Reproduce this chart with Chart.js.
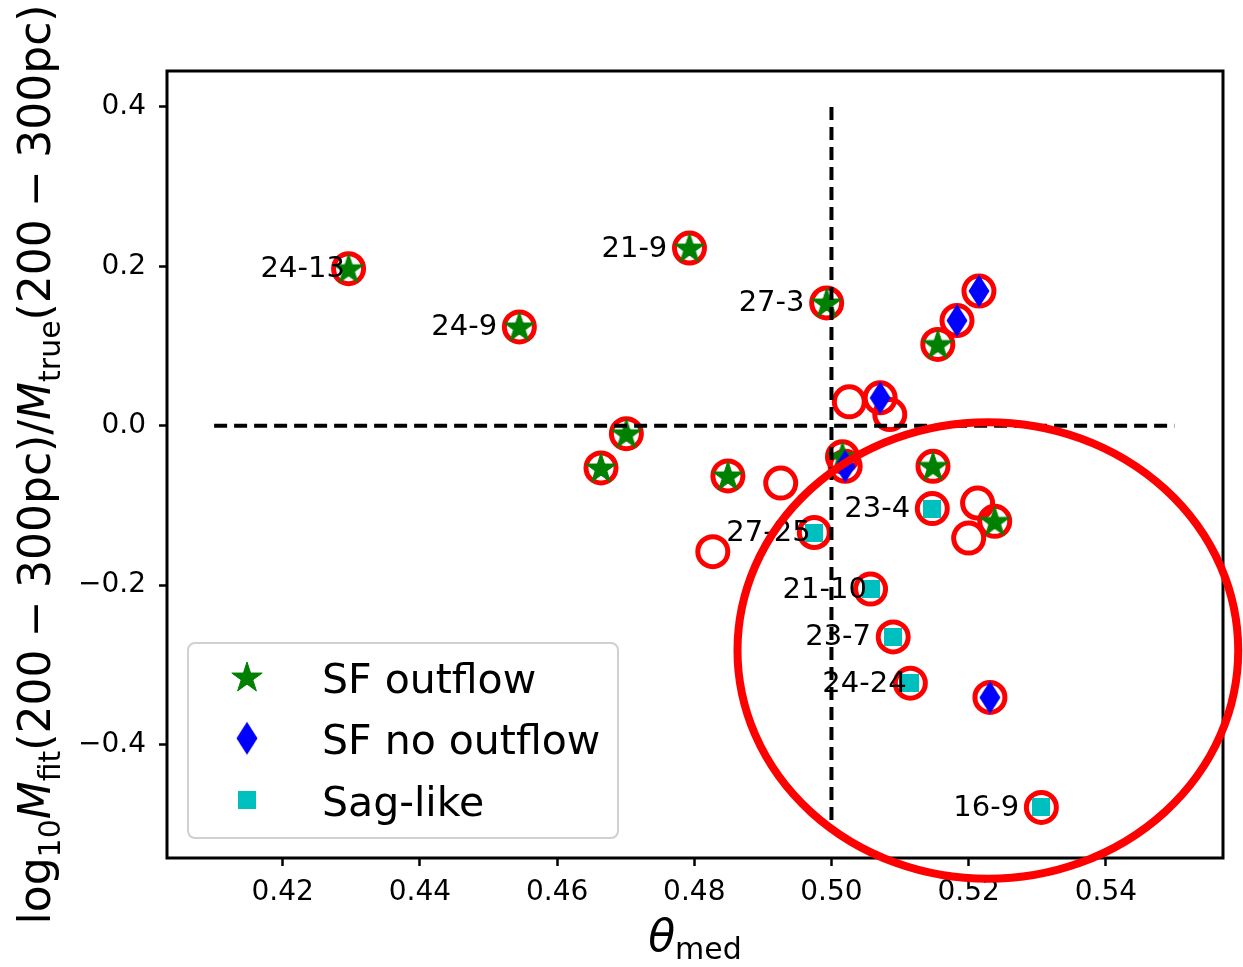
<!DOCTYPE html>
<html>
<head>
<meta charset="utf-8">
<script src="https://cdn.jsdelivr.net/npm/chart.js"></script>
<style>
  html, body { margin: 0; padding: 0; background: #fff; }
</style>
</head>
<body>
<canvas id="grafico" width="1243" height="967"></canvas>
<script>
// --- data ---
const sfOutflowTheta = [0.4296, 0.4545, 0.4793, 0.4993, 0.5155, 0.4701, 0.4664, 0.4849, 0.5016, 0.5148, 0.5238];
const sfOutflowMass  = [0.197, 0.124, 0.223, 0.154, 0.102, -0.010, -0.053, -0.063, -0.039, -0.051, -0.120];

const sfNoOutflowTheta = [0.5215, 0.5183, 0.5071, 0.5020, 0.5231];
const sfNoOutflowMass  = [0.169, 0.132, 0.035, -0.051, -0.341];

const sagLikeTheta = [0.5147, 0.4975, 0.5057, 0.5090, 0.5115, 0.5306];
const sagLikeMass  = [-0.104, -0.134, -0.205, -0.265, -0.323, -0.479];

// galaxies with no class (only the red ring)
const otherTheta = [0.5026, 0.5085, 0.4926, 0.5213, 0.5200, 0.4827];
const otherMass  = [0.030, 0.014, -0.072, -0.097, -0.141, -0.158];

const labelNames = ['24-13', '24-9', '21-9', '27-3', '23-4', '27-25', '21-10', '23-7', '24-24', '16-9'];
const labelTheta = [0.4296, 0.4545, 0.4793, 0.4993, 0.5147, 0.4975, 0.5057, 0.5090, 0.5115, 0.5306];
const labelMass  = [0.197, 0.124, 0.223, 0.154, -0.104, -0.134, -0.205, -0.265, -0.323, -0.479];

// reference lines
const hLineTheta = [0.41, 0.55];
const hLineMass  = [0, 0];
const vLineTheta = [0.5, 0.5];
const vLineMass  = [0.4, -0.5];

// highlight ellipse (data units)
const ellipseCenter = [0.5228, -0.282];
const ellipseRadius = [0.0365, 0.2865];

const xTicks = [0.42, 0.44, 0.46, 0.48, 0.50, 0.52, 0.54];
const xTickLabels = ['0.42', '0.44', '0.46', '0.48', '0.50', '0.52', '0.54'];
const yTicks = [-0.4, -0.2, 0.0, 0.2, 0.4];
const yTickLabels = ['\u22120.4', '\u22120.2', '0.0', '0.2', '0.4'];

const xMin = 0.40313, xMax = 0.55708;
const yMin = -0.5424, yMax = 0.4451;

const FONT = 'DejaVu Sans';

function pts(xs, ys) {
    return xs.map((x, i) => ({ x: x, y: ys[i] }));
}

// --- marker images (matplotlib-like) ---
function makeStar() {
    const c = document.createElement('canvas');
    c.width = 36; c.height = 36;
    const g = c.getContext('2d');
    const R = 16, r = R * 0.381966, cx = 18, cy = 19;
    g.beginPath();
    for (let k = 0; k < 10; k++) {
        const ang = -Math.PI / 2 + k * Math.PI / 5;
        const rad = k % 2 === 0 ? R : r;
        const px = cx + rad * Math.cos(ang), py = cy + rad * Math.sin(ang);
        if (k === 0) g.moveTo(px, py); else g.lineTo(px, py);
    }
    g.closePath();
    g.fillStyle = '#008000';
    g.fill();
    g.lineWidth = 1;
    g.strokeStyle = '#008000';
    g.stroke();
    return c;
}
function makeDiamond() {
    const c = document.createElement('canvas');
    c.width = 24; c.height = 36;
    const g = c.getContext('2d');
    g.beginPath();
    g.moveTo(12, 1.5); g.lineTo(22.5, 18); g.lineTo(12, 34.5); g.lineTo(1.5, 18);
    g.closePath();
    g.fillStyle = '#0000ff';
    g.fill();
    return c;
}
function makeSquare() {
    const c = document.createElement('canvas');
    c.width = 18; c.height = 18;
    const g = c.getContext('2d');
    g.fillStyle = '#00bfbf';
    g.fillRect(0, 0, 18, 18);
    return c;
}
const starImg = makeStar();
const diamondImg = makeDiamond();
const squareImg = makeSquare();

// --- mathtext-like titles ---
function richWidth(ctx, parts, gapExtra) {
    let w = 0;
    parts.forEach(p => {
        if (p.gap) { w += gapExtra; return; }
        ctx.font = p.font;
        w += ctx.measureText(p.t).width;
    });
    return w;
}
function drawRich(ctx, parts, gapExtra, startU) {
    let u = startU;
    parts.forEach(p => {
        if (p.gap) { u += gapExtra; return; }
        ctx.font = p.font;
        ctx.fillText(p.t, u, p.dy || 0);
        u += ctx.measureText(p.t).width;
    });
}

const rm = '44px "' + FONT + '"';
const it = 'italic 44px "' + FONT + '"';
const sb = '30px "' + FONT + '"';

const yTitleParts = [
    { t: 'log', font: rm }, { t: '10', font: sb, dy: 10 },
    { t: 'M', font: it }, { t: 'fit', font: sb, dy: 10 },
    { t: '(200', font: rm }, { gap: true }, { t: '\u2212', font: rm }, { gap: true },
    { t: '300pc)/', font: rm },
    { t: 'M', font: it }, { t: 'true', font: sb, dy: 10 },
    { t: '(200', font: rm }, { gap: true }, { t: '\u2212', font: rm }, { gap: true },
    { t: '300pc)', font: rm }
];
const xTitleParts = [
    { t: '\u03b8', font: it }, { t: 'med', font: sb, dy: 8 }
];

const extrasPlugin = {
    id: 'extras',
    afterDatasetsDraw(chart) {
        const ctx = chart.ctx;
        // point labels
        const meta = chart.getDatasetMeta(chart.data.datasets.length - 1);
        ctx.save();
        ctx.font = '29px "' + FONT + '"';
        ctx.fillStyle = '#000';
        ctx.textAlign = 'left';
        ctx.textBaseline = 'alphabetic';
        meta.data.forEach((el, i) => {
            ctx.fillText(labelNames[i], el.x - 88, el.y + 8.5);
        });
        ctx.restore();

        // legend
        ctx.save();
        ctx.beginPath();
        ctx.roundRect(188, 643, 430, 195, 7);
        ctx.fillStyle = 'rgba(255,255,255,0.8)';
        ctx.fill();
        ctx.lineWidth = 2;
        ctx.strokeStyle = '#d0d0d0';
        ctx.stroke();
        const entries = [
            { img: starImg, text: 'SF outflow' },
            { img: diamondImg, text: 'SF no outflow' },
            { img: squareImg, text: 'Sag-like' }
        ];
        ctx.font = '41px "' + FONT + '"';
        ctx.fillStyle = '#000';
        ctx.textBaseline = 'alphabetic';
        entries.forEach((e, i) => {
            const cy = 677 + i * 61.3;
            ctx.drawImage(e.img, 247 - e.img.width / 2, cy - e.img.height / 2);
            ctx.fillText(e.text, 322, cy + 16);
        });
        ctx.restore();
    },
    afterDraw(chart) {
        const ctx = chart.ctx;
        const a = chart.chartArea;
        const xs = chart.scales.x, ys = chart.scales.y;

        // axes frame
        ctx.save();
        ctx.lineWidth = 3;
        ctx.strokeStyle = '#000';
        ctx.strokeRect(a.left, a.top, a.right - a.left, a.bottom - a.top);
        ctx.restore();

        // y title, rotated, centred on the plot
        ctx.save();
        ctx.fillStyle = '#000';
        ctx.textBaseline = 'alphabetic';
        const natural = richWidth(ctx, yTitleParts, 0);
        const gap = Math.max(6, (920 - natural) / 4);
        const total = richWidth(ctx, yTitleParts, gap);
        ctx.translate(50, (a.top + a.bottom) / 2);
        ctx.rotate(-Math.PI / 2);
        drawRich(ctx, yTitleParts, gap, -total / 2);
        ctx.restore();

        // x title
        ctx.save();
        ctx.fillStyle = '#000';
        ctx.textBaseline = 'alphabetic';
        const xw = richWidth(ctx, xTitleParts, 0);
        ctx.translate((a.left + a.right) / 2, 951);
        drawRich(ctx, xTitleParts, 0, -xw / 2);
        ctx.restore();

        // highlight ellipse, drawn over everything and not clipped
        ctx.save();
        const cx = xs.getPixelForValue(ellipseCenter[0]);
        const cy = ys.getPixelForValue(ellipseCenter[1]);
        const rx = Math.abs(xs.getPixelForValue(ellipseCenter[0] + ellipseRadius[0]) - cx);
        const ry = Math.abs(ys.getPixelForValue(ellipseCenter[1] + ellipseRadius[1]) - cy);
        ctx.beginPath();
        ctx.ellipse(cx, cy, rx, ry, 0, 0, Math.PI * 2);
        ctx.lineWidth = 8;
        ctx.strokeStyle = '#ff0000';
        ctx.stroke();
        ctx.restore();
    }
};

const ctx = document.getElementById('grafico').getContext('2d');

const data = {
    datasets: [
        {
            label: 'all',
            data: pts(sfOutflowTheta.concat(sfNoOutflowTheta, sagLikeTheta, otherTheta),
                      sfOutflowMass.concat(sfNoOutflowMass, sagLikeMass, otherMass)),
            pointStyle: 'circle',
            pointRadius: 15,
            pointBorderWidth: 5,
            pointBorderColor: '#ff0000',
            pointBackgroundColor: 'rgba(0,0,0,0)',
            order: 6
        },
        {
            label: 'SF outflow',
            data: pts(sfOutflowTheta, sfOutflowMass),
            pointStyle: starImg,
            pointRadius: 14,
            order: 5
        },
        {
            label: 'SF no outflow',
            data: pts(sfNoOutflowTheta, sfNoOutflowMass),
            pointStyle: diamondImg,
            pointRadius: 14,
            order: 4
        },
        {
            label: 'Sag-like',
            data: pts(sagLikeTheta, sagLikeMass),
            pointStyle: squareImg,
            pointRadius: 14,
            order: 3
        },
        {
            label: 'h0',
            data: pts(hLineTheta, hLineMass),
            showLine: true,
            borderColor: '#000',
            borderWidth: 4,
            borderDash: [13, 7],
            pointRadius: 0,
            order: 2
        },
        {
            label: 'v0',
            data: pts(vLineTheta, vLineMass),
            showLine: true,
            borderColor: '#000',
            borderWidth: 4,
            borderDash: [13, 7],
            pointRadius: 0,
            order: 1
        },
        {
            label: 'names',
            data: pts(labelTheta, labelMass),
            pointRadius: 0,
            order: 0
        }
    ]
};

const tickFont = { family: FONT, size: 28 };

const config = {
    type: 'scatter',
    data: data,
    options: {
        responsive: false,
        animation: false,
        events: [],
        layout: { padding: { top: 71, right: 17, left: 0, bottom: 0 } },
        scales: {
            x: {
                type: 'linear',
                min: xMin,
                max: xMax,
                afterBuildTicks: s => { s.ticks = xTicks.map(v => ({ value: v })); },
                afterFit: s => { s.height = 109; },
                ticks: {
                    autoSkip: false,
                    maxRotation: 0,
                    font: tickFont,
                    color: '#000',
                    padding: 10,
                    callback: (v, i) => xTickLabels[i]
                },
                grid: {
                    display: true,
                    drawOnChartArea: false,
                    drawTicks: true,
                    tickLength: 8,
                    tickWidth: 2.5,
                    tickColor: '#000'
                },
                border: { display: false }
            },
            y: {
                type: 'linear',
                min: yMin,
                max: yMax,
                afterBuildTicks: s => { s.ticks = yTicks.map(v => ({ value: v })); },
                afterFit: s => { s.width = 167; },
                ticks: {
                    autoSkip: false,
                    font: tickFont,
                    color: '#000',
                    padding: 13,
                    callback: (v, i) => yTickLabels[i]
                },
                grid: {
                    display: true,
                    drawOnChartArea: false,
                    drawTicks: true,
                    tickLength: 8,
                    tickWidth: 2.5,
                    tickColor: '#000'
                },
                border: { display: false }
            }
        },
        plugins: {
            legend: { display: false },
            tooltip: { enabled: false }
        }
    },
    plugins: [extrasPlugin]
};

new Chart(ctx, config);
</script>
</body>
</html>
